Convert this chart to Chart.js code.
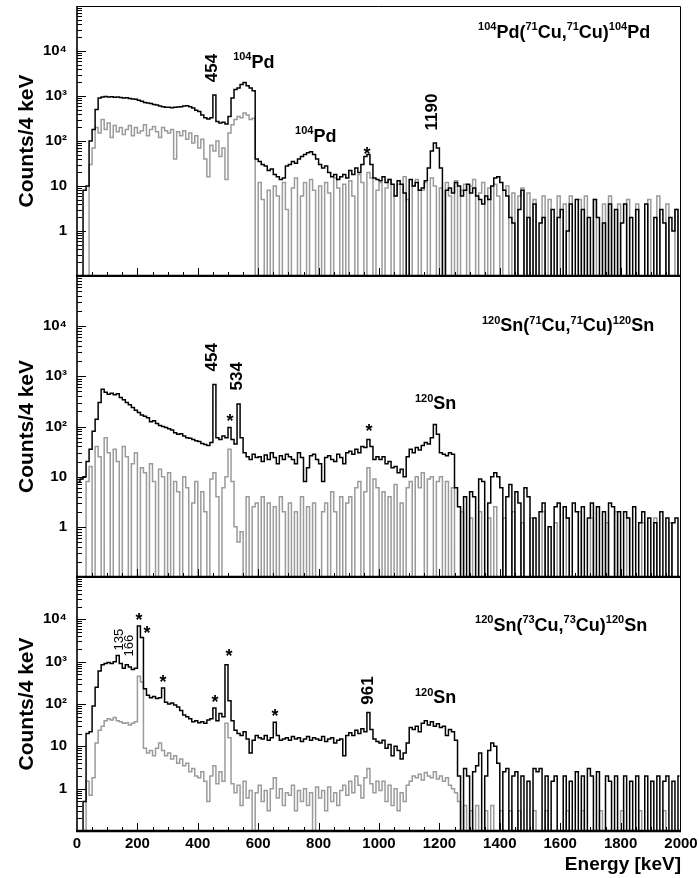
<!DOCTYPE html>
<html>
<head>
<meta charset="utf-8">
<script src="https://cdn.jsdelivr.net/npm/chart.js@4.4.1/dist/chart.umd.min.js"></script>
<style>
  html, body { margin: 0; padding: 0; background: #fff; }
  #wrap { position: relative; width: 699px; height: 878px; }
  #wrap canvas { position: absolute; left: 0; }
</style>
</head>
<body>
<div id="wrap">
  <canvas id="pd71"></canvas>
  <canvas id="sn71"></canvas>
  <canvas id="sn73"></canvas>
</div>
<script>
// 10 keV bins from 0 to 2000 keV, counts
const binWidth = 10;

// 104Pd(71Cu,71Cu)104Pd
const pdBlack = [
  0, 0, 8, 10, 100, 180, 500, 900, 950, 980,
  950, 960, 940, 950, 930, 900, 920, 880, 860, 850,
  800, 760, 720, 700, 680, 650, 630, 600, 580, 560,
  560, 550, 560, 570, 580, 600, 610, 580, 540, 480,
  450, 380, 330, 310, 330, 1050, 270, 250, 260, 240,
  350, 900, 1400, 1500, 1800, 2000, 1700, 1500, 1300, 40,
  35, 30, 28, 22, 24, 18, 16, 14, 15, 28,
  30, 35, 32, 40, 45, 50, 55, 58, 50, 40,
  30, 25, 28, 20, 16, 18, 14, 16, 18, 15,
  22, 18, 25, 20, 30, 45, 50, 30, 15, 14,
  13, 16, 12, 14, 11, 6, 13, 11, 7, 0,
  14, 10, 12, 8, 9, 13, 25, 60, 90, 70,
  25, 0, 8, 9, 7, 12, 10, 6, 8, 11,
  7, 9, 6, 5, 4, 6, 5, 10, 15, 16,
  12, 8, 6, 2, 1.5, 0, 3, 8, 0, 2,
  0, 4, 0, 1.5, 2, 0, 0, 3, 0, 2,
  3, 0, 1, 4, 0, 5, 0, 3, 0, 2,
  0, 5, 2, 0, 1.5, 0, 4, 0, 3, 0,
  1.5, 4, 0, 2, 0, 3, 0, 0, 4, 0,
  0, 2, 0, 3, 1.5, 0, 2, 1, 3, 0
];
const pdGrey = [
  0, 0, 0, 0, 30, 70, 200, 150, 300, 180,
  250, 120, 220, 160, 200, 140, 180, 220, 130, 200,
  150, 170, 230, 130, 180, 210, 160, 120, 200, 170,
  150, 180, 40, 160, 130, 170, 110, 150, 90, 130,
  70, 110, 40, 16, 80, 60, 100, 45, 70, 14,
  150, 230, 300, 350, 330, 420, 380, 300, 320, 0,
  12, 5, 0, 8, 0, 10, 6, 0, 12, 3,
  0, 9, 15, 0, 6, 12, 0, 14, 8, 0,
  10, 0, 12, 7, 0, 15, 9, 0, 11, 0,
  13, 6, 0, 18, 12, 0, 20, 15, 0, 8,
  12, 0, 9, 14, 0, 6, 11, 0, 16, 5,
  0, 10, 14, 0, 8, 12, 0, 15, 10, 0,
  9, 0, 12, 6, 0, 13, 0, 8, 11, 0,
  10, 14, 0, 7, 12, 0, 9, 0, 11, 6,
  0, 8, 10, 0, 7, 0, 6, 9, 0, 7,
  0, 5, 0, 0, 6, 0, 5, 0, 0, 6,
  0, 4, 0, 6, 0, 0, 5, 0, 6, 0,
  0, 5, 0, 0, 4, 0, 6, 0, 0, 4,
  0, 0, 5, 0, 0, 4, 0, 0, 0, 5,
  0, 0, 6, 0, 0, 4, 0, 0, 3, 0
];

// 120Sn(71Cu,71Cu)120Sn
const sn71Black = [
  8, 9, 10, 20, 35, 80, 140, 300, 550, 480,
  440, 460, 430, 450, 380, 340, 300, 270, 240, 210,
  190, 170, 160, 150, 125, 130, 115, 105, 100, 95,
  90, 85, 75, 70, 72, 65, 60, 58, 55, 52,
  50, 46, 44, 42, 48, 690, 60, 55, 65, 60,
  95, 55, 45, 280, 60, 30, 25, 22, 28, 24,
  25, 20, 27, 22, 30, 24, 18, 26, 22, 28,
  25, 22, 18, 30, 24, 8, 15, 26, 28, 22,
  18, 8, 24, 26, 22, 20, 28, 24, 18, 30,
  32, 28, 35, 30, 40, 38, 55, 40, 22, 25,
  22, 25, 18, 20, 15, 16, 12, 14, 10, 25,
  35, 30, 38, 34, 42, 48, 45, 60, 110, 70,
  30, 28, 26, 30, 28, 6, 2.5, 0, 4, 0,
  5, 4, 0, 9, 8, 0, 3, 10, 12, 10,
  6, 0, 4, 7, 0, 5, 3, 0, 6, 4,
  0, 1.5, 0, 2, 3, 0, 1, 0, 2.5, 3,
  0, 2.5, 1.5, 0, 3, 2, 0, 2.5, 0, 1.5,
  3, 0, 2.5, 0, 2, 0, 3, 2.5, 0, 2,
  0, 2, 1.5, 0, 2.5, 0, 1.2, 2, 0, 1.5,
  0, 1.2, 0, 2, 0, 1.5, 0, 1.2, 1.5, 0
];
const sn71Grey = [
  0, 0, 0, 8, 16, 0, 40, 25, 0, 60,
  30, 0, 35, 20, 0, 40, 25, 0, 18, 30,
  0, 15, 12, 0, 18, 8, 0, 14, 10, 0,
  12, 0, 8, 5, 0, 10, 6, 0, 3, 8,
  0, 5, 2, 0, 9, 12, 4, 0, 6, 10,
  35, 8, 1, 0.5, 0.8, 0, 4, 0, 2.5, 3,
  0, 4, 0, 3, 0, 2.5, 0, 4, 2, 0,
  3, 0, 2, 0, 4, 0, 2.5, 0, 3, 0,
  0, 2, 3, 0, 5, 2, 0, 4, 0, 3,
  4, 0, 6, 8, 0, 5, 15, 0, 9, 6,
  0, 5, 0, 4, 0, 7, 0, 3, 0, 6,
  8, 0, 10, 6, 12, 0, 9, 10, 0, 8,
  10, 0, 8, 0, 6, 0, 0, 2, 0, 0,
  1.5, 0, 0, 2, 0, 0, 1.5, 0, 2.5, 0,
  0, 1.5, 0, 0, 2, 0, 0, 1.2, 0, 0,
  1.5, 0, 0, 0, 2, 0, 0, 0, 1.2, 0,
  0, 0, 1.5, 0, 0, 0, 2, 0, 0, 0,
  1.5, 0, 0, 0, 0, 1.2, 0, 0, 2, 0,
  0, 0, 1.5, 0, 0, 0, 0, 1.2, 0, 0,
  0, 1.5, 0, 0, 0, 0, 1.2, 0, 0, 0
];

// 120Sn(73Cu,73Cu)120Sn
const sn73Black = [
  0, 0, 0.5, 20, 22, 90, 250, 600, 850, 900,
  950, 900, 1000, 1400, 900, 700, 850, 750, 650, 700,
  7000, 3700, 230, 160, 140, 150, 135, 140, 240, 110,
  100, 105, 95, 85, 70, 55, 50, 45, 38, 40,
  36, 38, 35, 42, 45, 80, 40, 60, 50, 850,
  120, 40, 24, 20, 18, 22, 15, 7, 14, 18,
  16, 15, 18, 14, 16, 37, 18, 14, 15, 16,
  14, 17, 15, 16, 13, 15, 17, 14, 16, 15,
  14, 17, 13, 15, 16, 12, 14, 15, 6, 18,
  21, 18, 24, 20, 26, 22, 63, 25, 15, 13,
  12, 14, 9, 11, 6, 10, 8, 5, 7, 12,
  28, 25, 30, 22, 35, 40, 32, 38, 30, 34,
  28, 30, 18, 25, 22, 14, 2, 0, 3, 2,
  0, 2.5, 3.5, 7, 0, 2, 8, 12, 10, 4,
  0, 2.5, 3, 0, 2, 2.5, 0, 2, 0, 1.5,
  0, 3, 2.5, 3, 0, 2, 0, 1.5, 2, 0,
  0, 2, 0, 1.5, 0, 2.5, 0, 2, 0, 3,
  2, 0, 2.5, 0, 0, 2, 1.5, 0, 2, 0,
  0, 2, 0, 1.5, 0, 2, 0, 0, 2, 0,
  1.5, 0, 2, 0, 1.5, 2, 0, 1.5, 0, 2
];
const sn73Grey = [
  0, 0, 0, 1.5, 0.7, 1.8, 12, 24, 30, 40,
  45, 42, 48, 40, 38, 35, 36, 32, 35, 38,
  450, 330, 9, 7, 8, 6, 9, 12, 8, 6,
  7, 5, 6, 4, 5, 3.5, 4, 2.5, 3, 2,
  1.8, 2.5, 1.5, 0.5, 2, 3.5, 1.3, 2.5, 1.5, 35,
  16, 1.3, 0.8, 1.2, 0.4, 1.5, 0.6, 0.9, 0, 0.8,
  1.2, 0.5, 0.9, 0.3, 1, 1.8, 0.6, 1, 0.4, 0.8,
  0.7, 1.2, 0.3, 0.9, 0.5, 1, 0.4, 0.8, 0, 1.1,
  0.6, 0.9, 0.3, 1.1, 0.5, 0.8, 0.4, 0.9, 1.2, 0.7,
  1.5, 0.8, 2, 1.2, 0.6, 1.8, 3, 1.3, 0.8, 1.5,
  0.9, 1.5, 0.5, 1.2, 0.4, 1, 0.3, 0.8, 0.5, 1.2,
  1.5, 2, 1.8, 2.2, 1.6, 2.4, 2, 1.8, 2.5, 1.7,
  2, 1.5, 1.8, 1.2, 1, 0.8, 0.5, 0, 0.4, 0,
  0.3, 0, 0.4, 0, 0, 0.3, 0, 0.4, 0, 0,
  0.3, 0, 0, 0.3, 0, 0, 0.3, 0, 0, 0,
  0, 0.3, 0, 0, 0, 0.3, 0, 0, 0, 0,
  0, 0, 0.3, 0, 0, 0, 0, 0.3, 0, 0,
  0, 0, 0, 0.3, 0, 0, 0, 0, 0, 0,
  0.3, 0, 0, 0, 0, 0, 0.3, 0, 0, 0,
  0, 0, 0, 0, 0.3, 0, 0, 0, 0, 0
];

// y tick labels (powers of ten) and x tick step
const yTickText = { 0: '1', 1: '10', 2: '10²', 3: '10³', 4: '10⁴' };
const xTickStep = 200;

// labels: energy (keV), counts, text
const pdNotes = [
  { kind: 'rot', e: 447, v: 4200, text: '454' },
  { kind: 'rich', e: 517, v: 4200, parts: [['104', 1], ['Pd', 0]] },
  { kind: 'rich', e: 722, v: 95, parts: [['104', 1], ['Pd', 0]] },
  { kind: 'star', e: 960, v: 63 },
  { kind: 'rot', e: 1175, v: 440, text: '1190' },
  { kind: 'rich', e: 1328, v: 19500, parts: [['104', 1], ['Pd(', 0], ['71', 1], ['Cu,', 0], ['71', 1], ['Cu)', 0], ['104', 1], ['Pd', 0]] }
];
const sn71Notes = [
  { kind: 'rot', e: 447, v: 2400, text: '454' },
  { kind: 'rot', e: 530, v: 1000, text: '534' },
  { kind: 'star', e: 507, v: 158 },
  { kind: 'star', e: 967, v: 100 },
  { kind: 'rich', e: 1119, v: 219, parts: [['120', 1], ['Sn', 0]] },
  { kind: 'rich', e: 1341, v: 7900, parts: [['120', 1], ['Sn(', 0], ['71', 1], ['Cu,', 0], ['71', 1], ['Cu)', 0], ['120', 1], ['Sn', 0]] }
];
const sn73Notes = [
  { kind: 'rotSmall', e: 139, v: 3300, text: '135' },
  { kind: 'rotSmall', e: 172, v: 2380, text: '166' },
  { kind: 'star', e: 205, v: 12000 },
  { kind: 'star', e: 232, v: 6000 },
  { kind: 'star', e: 285, v: 420 },
  { kind: 'star', e: 457, v: 142 },
  { kind: 'star', e: 503, v: 1720 },
  { kind: 'star', e: 656, v: 63 },
  { kind: 'rot', e: 964, v: 208, text: '961' },
  { kind: 'rich', e: 1119, v: 103, parts: [['120', 1], ['Sn', 0]] },
  { kind: 'rich', e: 1318, v: 5360, parts: [['120', 1], ['Sn(', 0], ['73', 1], ['Cu,', 0], ['73', 1], ['Cu)', 0], ['120', 1], ['Sn', 0]] }
];

const FONT = "'Liberation Sans', Arial, Helvetica, sans-serif";

// empty bins go below the axis floor so the step line drops to the bottom
function toPoints(counts) {
  return counts.map((c, i) => ({ x: i * binWidth + binWidth / 2, y: c > 0 ? c : 0.03 }));
}

const framePlugin = {
  id: 'frame',
  afterDatasetsDraw(chart) {
    const { ctx, chartArea: a, scales: { x, y } } = chart;
    ctx.save();
    ctx.strokeStyle = '#000';
    ctx.lineWidth = 1;
    ctx.beginPath();
    ctx.moveTo(a.left, a.top + 0.5);
    ctx.lineTo(a.right - 0.5, a.top + 0.5);
    ctx.lineTo(a.right - 0.5, a.bottom);
    ctx.stroke();
    // inner ticks on the log axis
    for (let n = -1; n <= 4; n++) {
      for (let k = 1; k <= 9; k++) {
        const v = k * Math.pow(10, n);
        if (v <= y.min || v >= y.max) continue;
        const py = Math.round(y.getPixelForValue(v)) + 0.5;
        ctx.beginPath();
        ctx.moveTo(a.left, py);
        ctx.lineTo(a.left + (k === 1 ? 9 : 5), py);
        ctx.stroke();
      }
    }
    for (let e = 50; e < 2000; e += 50) {
      const px = Math.round(x.getPixelForValue(e)) + 0.5;
      ctx.beginPath();
      ctx.moveTo(px, a.bottom);
      ctx.lineTo(px, a.bottom - (e % xTickStep === 0 ? 8 : 4));
      ctx.stroke();
    }
    ctx.lineWidth = 1.6;
    ctx.beginPath();
    ctx.moveTo(a.left, a.top);
    ctx.lineTo(a.left, a.bottom);
    ctx.stroke();
    ctx.lineWidth = 2.4;
    ctx.beginPath();
    ctx.moveTo(a.left - 1, a.bottom);
    ctx.lineTo(a.right, a.bottom);
    ctx.stroke();
    ctx.restore();
  }
};

function drawParts(ctx, x0, y0, parts, size) {
  let cx = x0;
  parts.forEach(([t, sup]) => {
    const s = sup ? Math.round(size * 0.6) : size;
    ctx.font = `bold ${s}px ${FONT}`;
    ctx.fillText(t, cx, sup ? y0 - size * 0.42 : y0);
    cx += ctx.measureText(t).width;
  });
}

function notesPlugin(notes) {
  return {
    id: 'notes',
    afterDraw(chart) {
      const { ctx, scales: { x, y } } = chart;
      ctx.save();
      ctx.fillStyle = '#000';
      notes.forEach(n => {
        const px = x.getPixelForValue(n.e);
        const py = y.getPixelForValue(n.v);
        if (n.kind === 'rot' || n.kind === 'rotSmall') {
          ctx.save();
          ctx.translate(px, py);
          ctx.rotate(-Math.PI / 2);
          ctx.font = n.kind === 'rot' ? `bold 17px ${FONT}` : `13px ${FONT}`;
          ctx.textAlign = 'center';
          ctx.textBaseline = 'middle';
          ctx.fillText(n.text, 0, 0);
          ctx.restore();
        } else if (n.kind === 'star') {
          ctx.font = `bold 18px ${FONT}`;
          ctx.textAlign = 'center';
          ctx.textBaseline = 'alphabetic';
          ctx.fillText('*', px, py + 10);
        } else {
          ctx.textAlign = 'left';
          ctx.textBaseline = 'alphabetic';
          drawParts(ctx, px, py, n.parts, 18);
        }
      });
      ctx.restore();
    }
  };
}

function makePanel(id, top, height, padTop, xHeight, black, grey, notes, showX) {
  const canvas = document.getElementById(id);
  canvas.width = 699;
  canvas.height = height;
  canvas.style.top = top + 'px';
  return new Chart(canvas, {
    type: 'line',
    data: {
      datasets: [
        { data: toPoints(black), borderColor: '#000', borderWidth: 1.5, stepped: 'middle', pointRadius: 0, clip: 0 },
        { data: toPoints(grey), borderColor: '#9b9b9b', borderWidth: 1.5, stepped: 'middle', pointRadius: 0, clip: 0 }
      ]
    },
    options: {
      responsive: false,
      animation: false,
      layout: { padding: { top: padTop, right: 18, left: 0, bottom: 0 } },
      plugins: { legend: { display: false }, tooltip: { enabled: false } },
      scales: {
        x: {
          type: 'linear', min: 0, max: 2000,
          grid: { display: false, drawTicks: false }, border: { display: false },
          ticks: {
            display: showX, stepSize: xTickStep, padding: 4, maxRotation: 0, autoSkip: false,
            color: '#000', font: { family: FONT, size: 15, weight: 'bold' },
            callback: v => String(v)
          },
          title: {
            display: showX, text: 'Energy [keV]', align: 'end', color: '#000',
            font: { family: FONT, size: 19, weight: 'bold' }, padding: { top: 0, bottom: 2 }
          },
          afterFit(s) { s.height = xHeight; s.paddingLeft = 0; s.paddingRight = 0; }
        },
        y: {
          type: 'logarithmic', min: 0.1, max: 1e5,
          grid: { display: false, drawTicks: false }, border: { display: false },
          ticks: {
            autoSkip: false, padding: 10, color: '#000',
            font: { family: FONT, size: 15, weight: 'bold' },
            callback: v => {
              const p = Math.log10(v);
              const r = Math.round(p);
              return Math.abs(p - r) < 1e-6 && yTickText[r] !== undefined ? yTickText[r] : '';
            }
          },
          title: {
            display: true, text: 'Counts/4 keV', color: '#000',
            font: { family: FONT, size: 21, weight: 'bold' }, padding: { top: 15, bottom: 0 }
          },
          afterFit(s) { s.width = 77; s.paddingTop = 0; s.paddingBottom = 0; }
        }
      }
    },
    plugins: [framePlugin, notesPlugin(notes)]
  });
}

makePanel('pd71', 0, 277, 6, 1, pdBlack, pdGrey, pdNotes, false);
makePanel('sn71', 276, 302, 0, 1, sn71Black, sn71Grey, sn71Notes, false);
makePanel('sn73', 577, 301, 0, 47, sn73Black, sn73Grey, sn73Notes, true);
</script>
</body>
</html>
